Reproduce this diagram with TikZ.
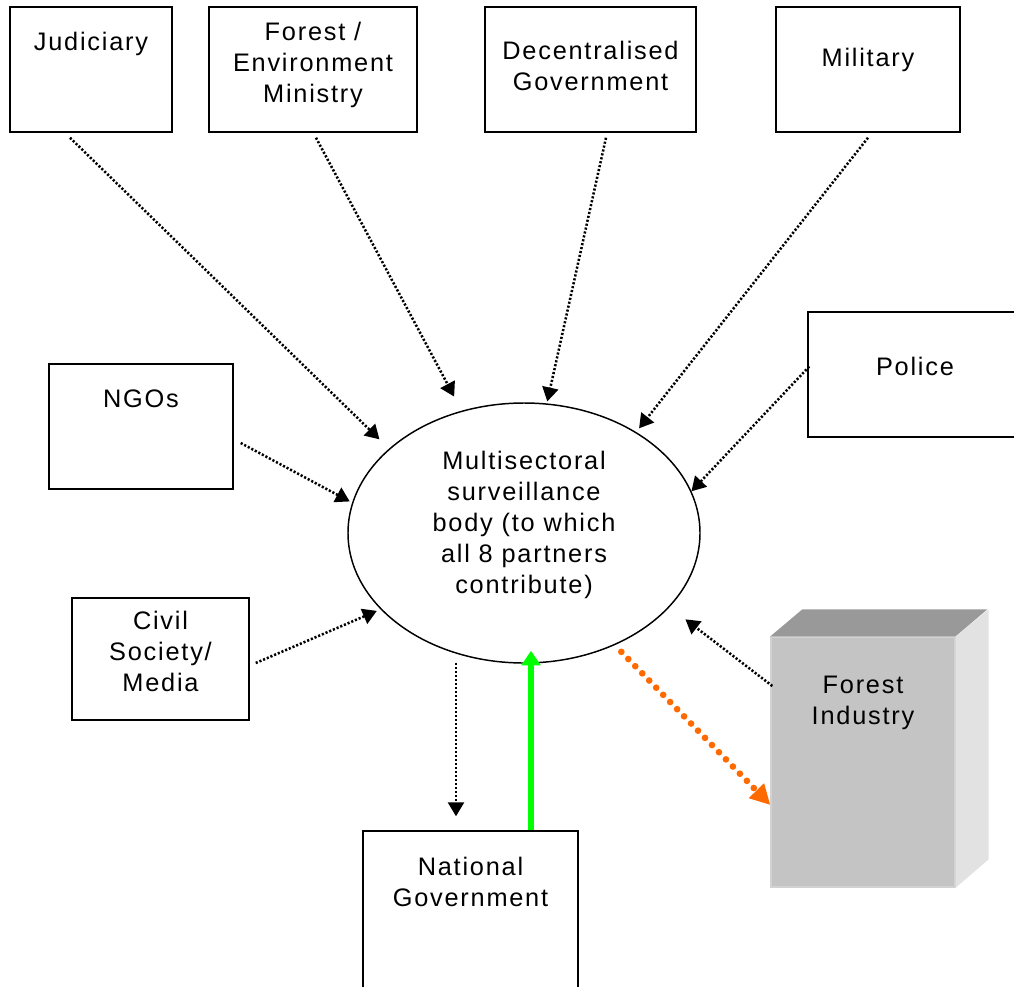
\documentclass[tikz,border=0pt]{standalone}
\usepackage{fontspec}
\setmainfont{Liberation Sans}[LetterSpace=7]
\usepackage{tikz}
\usetikzlibrary{arrows.meta,shapes,calc,positioning}
\usepackage{xcolor}
\definecolor{indfront}{HTML}{C4C4C4}
\definecolor{indtop}{HTML}{999999}
\definecolor{indside}{HTML}{E2E2E2}
\definecolor{indedge}{HTML}{D2D2D2}
\definecolor{sellout}{HTML}{FF6A00}
\definecolor{feedback}{HTML}{00FF00}

\begin{document}
\begin{tikzpicture}[x=0.75pt,y=-0.75pt]\fontsize{19}{23.3}\selectfont
		\newcommand\rowh{93.75pt}
		\newcommand\tipl{10.5pt}
		\newcommand\tipw{12pt}
		\tikzset{
		partner/.style={draw, line width=1.1pt, minimum height=\rowh, inner sep=0pt},
		boxtext/.style={anchor=north, align=center, inner sep=0pt, outer sep=0pt},
		report/.style={line width=1.9pt, dash pattern=on 1.6pt off 1.4pt,
			-{Triangle[length=\tipl, width=\tipw]}},
		}
		\useasboundingbox (0,0) rectangle (1014,986);
		\clip (0,0) rectangle (1014,986);
		% top row of partners
		\node [partner, minimum width=121.5pt,
			label={[boxtext, yshift=-19.5pt]north:Judiciary}] (jud) at (91,69.5) {};
		\node [partner, minimum width=156pt,
			label={[boxtext, yshift=-12pt]north:Forest /\\Environment\\Ministry}] (forenv) at (313,69.5) {};
		\node [partner, minimum width=158.25pt,
			label={[boxtext, yshift=-26.25pt]north:Decentralised\\Government}] (decgov) at (590.5,69.5) {};
		\node [partner, minimum width=138pt,
			label={[boxtext, yshift=-31.5pt]north:Military}] (mil) at (868,69.5) {};
		% side partners
		\node [partner, minimum width=160.5pt,
			label={[boxtext, yshift=-34.5pt]north:Police}] (police) at (915,374.5) {};
		\node [partner, minimum width=138pt,
			label={[boxtext, yshift=-20.25pt]north:NGOs}] (ngo) at (141,426.5) {};
		\node [partner, minimum width=132.75pt, minimum height=91.5pt,
			label={[boxtext, yshift=-10.5pt]north:Civil\\Society/\\Media}] (civil) at (160.5,659) {};
		\node [partner, minimum width=161.25pt, minimum height=126.75pt,
			label={[boxtext, yshift=-20.25pt]north:National\\Government}] (natgov) at (470.5,915.5) {};
		% surveillance body
		\node [draw, ellipse, line width=1.1pt, minimum width=264pt, minimum height=195pt,
			align=center, text depth=16pt, inner sep=0pt]
			(body) at (524,533) {Multisectoral\\surveillance\\body (to which\\all 8 partners\\contribute)};
		% forest industry block
		\node [fill=indfront, draw=indedge, line width=1pt, minimum width=138pt, minimum height=187.5pt,
			label={[boxtext, yshift=-30pt]north:Forest\\Industry}] (ind) at (863,762) {};
		\fill [indtop] (ind.north west) -- ++(32,-27) -- ++(185,0) -- (ind.north east) -- cycle;
		\fill [indside] (ind.north east) -- ++(33,-27) -- ++(0,250) -- (ind.south east) -- cycle;

		\draw [report, shorten >=10pt] ($(jud.south)+(-21,5)$) -- (body.148);
		\draw [report, shorten >=12pt] ($(forenv.south)+(3,5)$) -- (body.117);
		\draw [report, shorten >=1.5pt] ($(decgov.south)+(15.5,5)$) -- (body.80);
		\draw [report, shorten >=3.5pt] ($(mil.south)+(0,5)$) -- (body.42);
		\draw [report] ($(police.west)+(2,-8)$) -- (body.14);
		\draw [report, shorten >=2pt] ($(ngo.east)+(7,16.5)$) -- (body.170);
		\draw [report, shorten >=3pt] ($(civil.east)+(6,4)$) -- (body.208);
		\draw [report, shorten >=15pt] ($(ind.west)+(2,-76)$) -- (body.333);
		\draw [report] ($(body.south)+(-68,-1)$) -- ($(natgov.north)+(-14.5,-14)$);
		% feedback and leak
		\draw [feedback, line width=5pt, -{Triangle[length=11pt, width=14pt]}]
			($(natgov.north)+(60.5,0)$) -- ($(body.south)+(7,-13)$);
		\draw [sellout, line width=5pt, line cap=round, dash pattern=on 0pt off 7.5pt,
			shorten <=7pt, -{Triangle[length=15pt, width=15pt]}]
			(body.309) -- ($(ind.west)+(0,43)$);
\end{tikzpicture}
\end{document}
